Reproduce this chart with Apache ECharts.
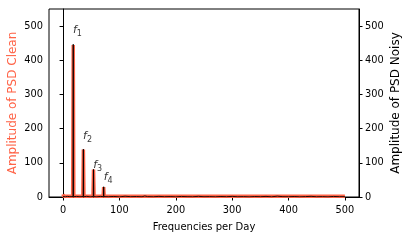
<!DOCTYPE html>
<html>
<head>
<meta charset="utf-8">
<script src="https://cdn.jsdelivr.net/npm/echarts@6/dist/echarts.min.js"></script>
<style>html,body{margin:0;padding:0;background:#fff;}#c{width:409px;height:245px;}</style>
</head>
<body>
<div id="c"></div>
<script>
// Clean PSD (frequency per day, amplitude)
var cleanFreq = [0, 1, 17, 18, 19, 35, 36, 37, 53, 54, 55, 71, 72, 73, 500];
var cleanAmp  = [8, 2, 2, 445, 2, 2, 139, 2, 2, 80, 2, 2, 29, 2, 2];
// Noisy PSD
var noisyFreq = [0, 4, 8, 12, 17.6, 18, 18.4, 24, 30, 35.6, 36, 36.4, 42, 48, 53.6, 54, 54.4, 60, 66, 71.6, 72, 72.4, 80, 90, 100, 110, 120, 130, 140, 145, 150, 160, 170, 180, 190, 200, 210, 220, 230, 240, 250, 260, 270, 280, 290, 300, 310, 320, 330, 340, 350, 360, 370, 380, 390, 400, 410, 420, 430, 440, 450, 460, 470, 480, 490, 500];
var noisyAmp  = [1.5, 0.6, 1.8, 0.9, 1.2, 447, 1.0, 1.6, 0.7, 1.4, 140, 0.8, 1.9, 0.5, 1.3, 81, 1.1, 0.6, 1.7, 1.0, 30, 1.2, 0.8, 1.6, 0.5, 2.2, 0.9, 1.4, 0.6, 3.0, 1.1, 0.7, 1.8, 0.9, 1.3, 0.5, 1.6, 1.0, 0.7, 2.0, 0.8, 1.2, 0.6, 1.5, 0.9, 1.8, 0.7, 1.1, 0.5, 1.4, 0.9, 1.7, 0.6, 2.4, 1.0, 0.8, 1.5, 0.6, 1.2, 1.9, 0.7, 1.1, 0.5, 1.6, 0.9, 1.0];
// Peak annotations
var annLabel = ['1', '2', '3', '4'];
var annX = [17.5, 35.5, 53.5, 72];
var annY = [466, 156, 70, 36];
// Ticks
var xTicks = [0, 100, 200, 300, 400, 500];
var yTicks = [0, 100, 200, 300, 400, 500];

var FONT = 'DejaVu Sans';
function pairs(a, b) { return a.map(function (v, i) { return [v, b[i]]; }); }

var chart = echarts.init(document.getElementById('c'), null, {renderer: 'canvas'});
var yAxisBase = function (pos, name, color, gap) {
  return {
    type: 'value', position: pos, min: 0, max: 550,
    name: name, nameLocation: 'middle', nameGap: gap, nameRotate: 90, nameMoveOverlap: false,
    nameTextStyle: {color: color, fontFamily: FONT, fontSize: 12},
    axisLine: {show: true, lineStyle: {color: '#000', width: 1}},
    axisTick: {show: true, inside: false, length: 3.5, lineStyle: {color: '#000'}, customValues: yTicks},
    axisLabel: {color: '#000', fontFamily: FONT, fontSize: 9.8, margin: 6, customValues: yTicks},
    splitLine: {show: false}
  };
};
chart.setOption({
  animation: false,
  backgroundColor: '#fff',
  grid: {left: 49, right: 50, top: 9, bottom: 48, containLabel: false, outerBoundsMode: 'none',
         show: true, borderColor: '#000', borderWidth: 1, backgroundColor: 'transparent'},
  xAxis: {
    type: 'value', min: -25, max: 525,
    name: 'Frequencies per Day', nameLocation: 'middle', nameGap: 25, nameMoveOverlap: false,
    nameTextStyle: {color: '#000', fontFamily: FONT, fontSize: 10},
    axisLine: {show: true, onZero: false, lineStyle: {color: '#000', width: 1}},
    axisTick: {show: true, inside: false, length: 3.5, lineStyle: {color: '#000'}, customValues: xTicks},
    axisLabel: {color: '#000', fontFamily: FONT, fontSize: 9.8, margin: 8, customValues: xTicks},
    splitLine: {show: false}
  },
  yAxis: [
    yAxisBase('left', 'Amplitude of PSD Clean', '#FF6347', 30),
    yAxisBase('right', 'Amplitude of PSD Noisy', '#000', 31)
  ],
  series: [
    {type: 'line', yAxisIndex: 0, data: pairs(cleanFreq, cleanAmp), showSymbol: false, symbol: 'none',
     lineStyle: {color: '#FF6347', width: 3.5}, z: 2},
    {type: 'line', yAxisIndex: 1, data: pairs(noisyFreq, noisyAmp), showSymbol: false, symbol: 'none',
     lineStyle: {color: '#000', width: 0.9}, z: 3},
    {type: 'scatter', yAxisIndex: 0, symbolSize: 0, z: 4, silent: true,
     data: annX.map(function (x, i) { return {value: [x, annY[i]], name: annLabel[i]}; }),
     label: {show: true, position: [0, 0], align: 'left', verticalAlign: 'bottom',
       formatter: function (p) { return '{i|f}{s|' + p.name + '}'; },
       rich: {
         i: {fontFamily: FONT, fontStyle: 'italic', fontSize: 11, color: '#000', verticalAlign: 'top', lineHeight: 13},
         s: {fontFamily: FONT, fontSize: 8, color: '#000', verticalAlign: 'bottom', lineHeight: 13}
       }}
    }
  ]
});
</script>
</body>
</html>
